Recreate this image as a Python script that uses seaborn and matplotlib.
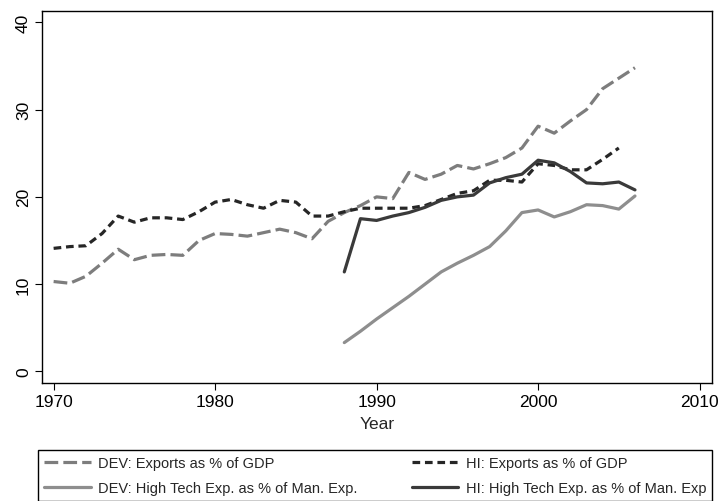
import numpy as np
import pandas as pd
import matplotlib
matplotlib.use("Agg")
import matplotlib.pyplot as plt
import seaborn as sns

# Series
years_exp = list(range(1970, 2007))
dev_exports = [10.3, 10.1, 10.9, 12.4, 14.0, 12.8, 13.3, 13.4, 13.3, 15.0,
               15.8, 15.7, 15.5, 15.9, 16.3, 15.9, 15.2, 17.2, 18.2, 19.0,
               20.0, 19.8, 22.8, 22.0, 22.6, 23.6, 23.2, 23.8, 24.5, 25.6,
               28.1, 27.3, 28.7, 30.0, 32.4, 33.6, 34.8]

years_hi_exp = list(range(1970, 2006))
hi_exports = [14.1, 14.3, 14.4, 15.8, 17.8, 17.1, 17.6, 17.6, 17.4, 18.3,
              19.4, 19.7, 19.1, 18.7, 19.6, 19.4, 17.8, 17.8, 18.3, 18.7,
              18.7, 18.7, 18.7, 19.0, 19.7, 20.4, 20.7, 21.9, 21.9, 21.7,
              23.8, 23.6, 23.1, 23.1, 24.3, 25.6]

years_ht = list(range(1988, 2007))
dev_hightech = [3.3, 4.6, 6.0, 7.3, 8.6, 10.0, 11.4, 12.4, 13.3, 14.3,
                16.1, 18.2, 18.5, 17.7, 18.3, 19.1, 19.0, 18.6, 20.1]
hi_hightech = [11.4, 17.5, 17.3, 17.8, 18.2, 18.8, 19.6, 20.0, 20.2, 21.6,
               22.2, 22.6, 24.2, 23.9, 22.9, 21.6, 21.5, 21.7, 20.8]

labels = ["DEV: Exports as % of GDP",
          "DEV: High Tech Exp. as % of Man. Exp.",
          "HI: Exports as % of GDP",
          "HI: High Tech Exp. as % of Man. Exp"]

sns.set_theme(style="ticks")
plt.rcParams['font.family'] = ['Liberation Sans', 'DejaVu Sans']

fig = plt.figure(figsize=(7.21, 5.02), dpi=100)
ax = fig.add_axes([42 / 721, 118 / 502, 670 / 721, 372 / 502])

lw = 2.3
sns.lineplot(x=years_exp, y=dev_exports, ax=ax, color="#7d7d7d", lw=lw)
ax.lines[-1].set_dashes((4.3, 1.6))
sns.lineplot(x=years_ht, y=dev_hightech, ax=ax, color="#8e8e8e", lw=lw)
sns.lineplot(x=years_hi_exp, y=hi_exports, ax=ax, color="#262626", lw=lw)
ax.lines[-1].set_dashes((2.4, 1.5))
sns.lineplot(x=years_ht, y=hi_hightech, ax=ax, color="#3a3a3a", lw=lw)

ax.set_xlim(1969.28, 2010.77)
ax.set_ylim(-1.33, 41.3)
ax.set_xticks([1970, 1980, 1990, 2000, 2010])
ax.set_yticks([0, 10, 20, 30, 40])
ax.tick_params(axis='both', labelsize=12.5, length=5, width=0.8, color='black',
               labelcolor='black', pad=3)
plt.setp(ax.get_yticklabels(), rotation=90, va='center')
ax.set_xlabel("Year", fontsize=12.5, labelpad=5)
ax.set_ylabel("")
for s in ax.spines.values():
    s.set_visible(True)
    s.set_color('black')
    s.set_linewidth(1.0)

handles = ax.lines[:4]
leg = fig.legend(handles, labels, loc='upper left', ncol=2, mode='expand',
                 bbox_to_anchor=(38 / 721, -0.2, 674 / 721, 0.3016),
                 fontsize=10.5, handlelength=3.2, handletextpad=0.5,
                 borderaxespad=0, frameon=True, fancybox=False,
                 edgecolor='black', framealpha=1, labelspacing=0.8,
                 borderpad=0.4)
leg.get_frame().set_linewidth(1.0)

fig.savefig("out.png", dpi=100)
